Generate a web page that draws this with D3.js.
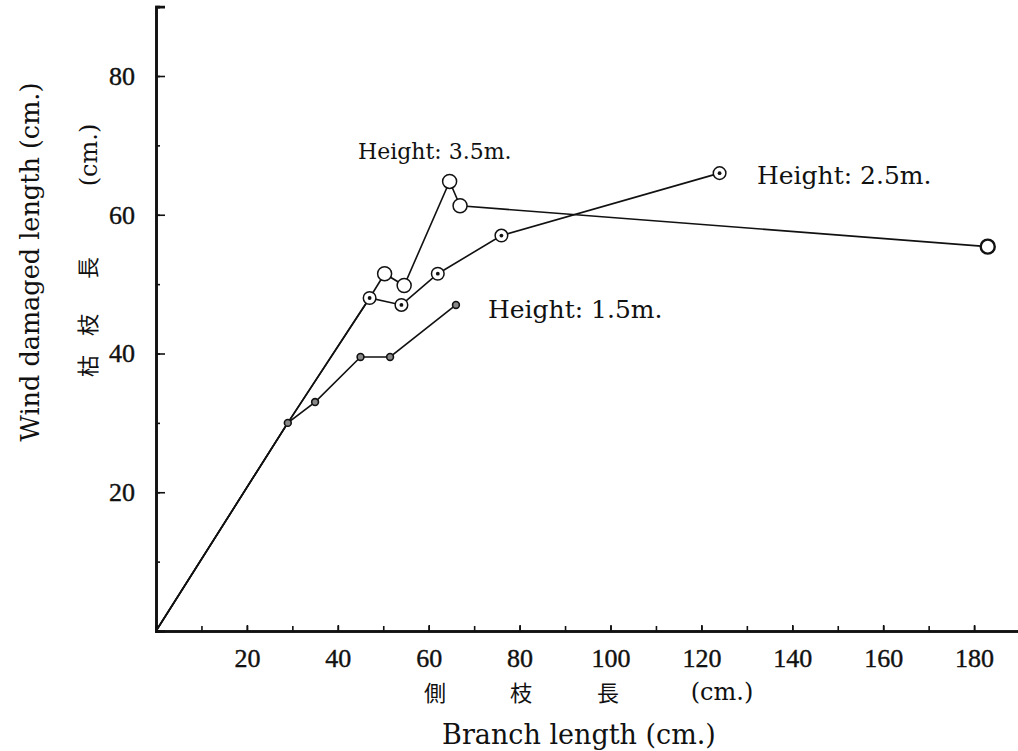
<!DOCTYPE html>
<html>
<head>
<meta charset="utf-8">
<script src="https://cdn.jsdelivr.net/npm/d3@7"></script>
<style>
  body { margin: 0; background: #fff; }
  svg { display: block; }
  .lbl { font-family: "DejaVu Serif", serif; fill: #111; }
  .cjk { font-family: "Noto Sans CJK JP", sans-serif; fill: #111; }
</style>
</head>
<body>
<svg id="chart" width="1018" height="751"></svg>
<script>
// readings (branch length, wind damaged length)
const h15X = [0, 29, 35, 45, 51.5, 66];
const h15Y = [0, 30, 33, 39.5, 39.5, 47];
const h25X = [0, 29, 47, 54, 62, 76, 124];
const h25Y = [0, 30, 48, 47, 51.5, 57, 66];
const h35X = [0, 29, 47, 50.3, 54.6, 64.6, 66.9, 183];
const h35Y = [0, 30, 48, 51.5, 49.8, 64.8, 61.3, 55.4];
// first point of each series that carries its own marker
const markFrom = [1, 2, 3];
const seriesNames = ['Height: 1.5m.', 'Height: 2.5m.', 'Height: 3.5m.'];
const xTicks = [20, 40, 60, 80, 100, 120, 140, 160, 180];
const yTicks = [20, 40, 60, 80];

const svg = d3.select('#chart');

const x = d3.scaleLinear().domain([0, 190]).range([156, 156 + 190 * 4.545]);
const y = d3.scaleLinear().domain([0, 90]).range([631, 631 - 90 * 6.9375]);

// axes
const xMinor = d3.axisBottom(x).tickValues(d3.range(10, 190, 10)).tickSize(-5).tickFormat('');
const xMajor = d3.axisBottom(x).tickValues(xTicks).tickSize(-6).tickPadding(18);
const yMinor = d3.axisLeft(y).tickValues(d3.range(10, 90, 10)).tickSize(-4).tickFormat('');
const yMajor = d3.axisLeft(y).tickValues(yTicks).tickSize(-9).tickPadding(21);

function drawAxis(ax, transform) {
  const g = svg.append('g').attr('transform', transform).call(ax);
  g.select('.domain').attr('stroke', '#111').attr('stroke-width', 2.6);
  g.selectAll('.tick line').attr('stroke', '#111').attr('stroke-width', 1.6);
  g.selectAll('.tick text')
    .attr('font-family', 'Liberation Serif')
    .attr('font-size', 26)
    .attr('fill', '#111')
    .attr('stroke', '#111')
    .attr('stroke-width', 0.4);
  return g;
}
drawAxis(xMinor, `translate(0,${y(0)})`);
drawAxis(xMajor, `translate(0,${y(0)})`);
drawAxis(yMinor, `translate(${x(0)},0)`);
drawAxis(yMajor, `translate(${x(0)},0)`);

// series
const series = [
  {name: seriesNames[0], xs: h15X, ys: h15Y, kind: 'small'},
  {name: seriesNames[1], xs: h25X, ys: h25Y, kind: 'dot'},
  {name: seriesNames[2], xs: h35X, ys: h35Y, kind: 'open'}
];
series.forEach((s, i) => {
  s.pts = s.xs.map((v, j) => ({x: v, y: s.ys[j]}));
  s.marks = s.pts.slice(markFrom[i]);
});

const line = d3.line().x(d => x(d.x)).y(d => y(d.y));

svg.append('g').selectAll('path')
  .data(series)
  .join('path')
  .attr('d', d => line(d.pts))
  .attr('fill', 'none')
  .attr('stroke', '#111')
  .attr('stroke-width', 1.6);

// markers: open circles drawn last so they sit on top
series.slice().reverse().forEach(s => {
  const g = svg.append('g');
  if (s.kind === 'small') {
    g.selectAll('circle').data(s.marks).join('circle')
      .attr('cx', d => x(d.x)).attr('cy', d => y(d.y))
      .attr('r', 3.4).attr('fill', '#888').attr('stroke', '#111').attr('stroke-width', 1.6);
  } else if (s.kind === 'dot') {
    g.selectAll('circle.o').data(s.marks).join('circle')
      .attr('class', 'o')
      .attr('cx', d => x(d.x)).attr('cy', d => y(d.y))
      .attr('r', 6.3).attr('fill', '#fff').attr('stroke', '#111').attr('stroke-width', 1.5);
    g.selectAll('circle.c').data(s.marks).join('circle')
      .attr('class', 'c')
      .attr('cx', d => x(d.x)).attr('cy', d => y(d.y))
      .attr('r', 1.9).attr('fill', '#111');
  } else {
    g.selectAll('circle').data(s.marks).join('circle')
      .attr('cx', d => x(d.x)).attr('cy', d => y(d.y))
      .attr('r', 7).attr('fill', '#fff').attr('stroke', '#111')
      .attr('stroke-width', (d, j) => j === s.marks.length - 1 ? 2.4 : 1.5);
  }
});

// series labels
svg.append('text').attr('class', 'lbl').attr('x', 358).attr('y', 159)
  .style('font-size', '22px').text(seriesNames[2]);
svg.append('text').attr('class', 'lbl').attr('x', 757).attr('y', 184)
  .style('font-size', '25px').text(seriesNames[1]);
svg.append('text').attr('class', 'lbl').attr('x', 488).attr('y', 318)
  .style('font-size', '25px').text(seriesNames[0]);

// axis titles
svg.append('text').attr('class', 'lbl')
  .attr('text-anchor', 'middle')
  .attr('transform', 'translate(579,744)')
  .style('font-size', '27px')
  .text('Branch length (cm.)');

const bottomCjk = [['側', 435], ['枝', 521], ['長', 608]];
bottomCjk.forEach(([t, px]) => {
  svg.append('text').attr('class', 'cjk').attr('text-anchor', 'middle')
    .attr('x', px).attr('y', 701).style('font-size', '22px').text(t);
});
svg.append('text').attr('class', 'lbl').attr('text-anchor', 'middle')
  .attr('x', 722).attr('y', 700).style('font-size', '24px').text('(cm.)');

svg.append('text').attr('class', 'lbl')
  .attr('text-anchor', 'middle')
  .attr('transform', 'translate(39,262) rotate(-90)')
  .style('font-size', '25.5px')
  .text('Wind damaged length (cm.)');

const leftCjk = [['枯', 366], ['枝', 325], ['長', 268]];
leftCjk.forEach(([t, py]) => {
  svg.append('text').attr('class', 'cjk').attr('text-anchor', 'middle')
    .attr('transform', `translate(96,${py}) rotate(-90)`)
    .style('font-size', '22px').text(t);
});
svg.append('text').attr('class', 'lbl').attr('text-anchor', 'middle')
  .attr('transform', 'translate(97,155) rotate(-90)')
  .style('font-size', '24px').text('(cm.)');
</script>
</body>
</html>
